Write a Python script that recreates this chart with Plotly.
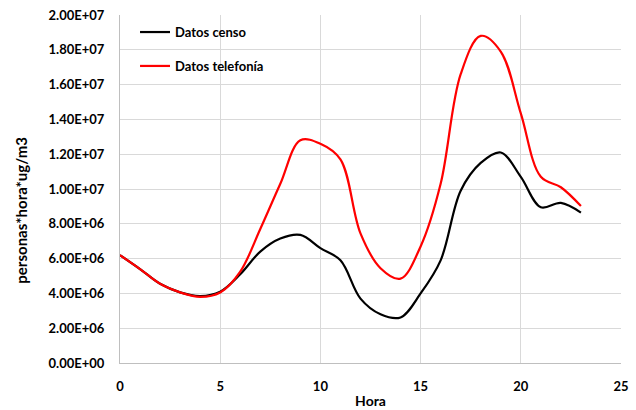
import plotly.graph_objects as go

# Hourly exposure values (personas*hora*ug/m3)
horas = list(range(24))
censo = [6.2e6, 5.4e6, 4.55e6, 4.06e6, 3.85e6, 4.1e6, 5.1e6, 6.4e6, 7.15e6, 7.36e6,
         6.6e6, 5.9e6, 3.7e6, 2.8e6, 2.62e6, 4.0e6, 5.9e6, 9.9e6, 11.5e6, 12.1e6,
         10.7e6, 8.95e6, 9.2e6, 8.64e6]
telefonia = [6.2e6, 5.4e6, 4.55e6, 4.06e6, 3.8e6, 4.05e6, 5.25e6, 7.7e6, 10.3e6, 12.8e6,
             12.6e6, 11.7e6, 7.45e6, 5.45e6, 4.85e6, 6.7e6, 10.3e6, 16.6e6, 18.8e6, 17.9e6,
             14.35e6, 10.7e6, 10.1e6, 9.02e6]

x_ticks = [0, 5, 10, 15, 20, 25]
y_ticks = [i * 2e6 for i in range(11)]
y_tick_text = ["0.00E+00", "2.00E+06", "4.00E+06", "6.00E+06", "8.00E+06", "1.00E+07",
               "1.20E+07", "1.40E+07", "1.60E+07", "1.80E+07", "2.00E+07"]

FONT = "Lato"
GRID = "#d9d9d9"
CLEAR = "rgba(0,0,0,0)"

fig = go.Figure()
fig.add_trace(go.Scatter(
    x=horas, y=censo, mode="lines", name="Datos censo", legendgroup="a",
    line=dict(color="black", width=2.2, shape="spline", smoothing=1.0),
))
fig.add_trace(go.Scatter(
    x=horas, y=telefonia, mode="lines", name="Datos telefonía", legendgroup="b",
    line=dict(color="#ff0000", width=2.2, shape="spline", smoothing=1.0),
))

fig.update_layout(
    width=636, height=410,
    margin=dict(l=120, r=15, t=15, b=47),
    paper_bgcolor="white", plot_bgcolor="white",
    font=dict(family=FONT, color="black", size=13),
    showlegend=True,
    legend=dict(
        x=0.03, y=0.994, xanchor="left", yanchor="top",
        bgcolor=CLEAR, font=dict(family=FONT, size=13, color="black", weight="bold"),
        tracegroupgap=14, itemwidth=30,
    ),
    xaxis=dict(
        range=[0, 25], tickvals=x_ticks, showgrid=True, gridcolor=GRID, gridwidth=1,
        showline=True, linecolor="#bfbfbf", linewidth=1, zeroline=False,
        ticks="outside", ticklen=11, tickcolor=CLEAR,
        tickfont=dict(family=FONT, size=13, weight="bold"),
        title=dict(text="Hora", font=dict(family=FONT, size=14, weight="bold"), standoff=3),
        automargin=False,
    ),
    yaxis=dict(
        range=[0, 2e7], tickvals=y_ticks, ticktext=y_tick_text,
        showgrid=True, gridcolor=GRID, gridwidth=1,
        showline=True, linecolor="#bfbfbf", linewidth=1, zeroline=False,
        ticks="outside", ticklen=12, tickcolor=CLEAR,
        tickfont=dict(family=FONT, size=13, weight="bold"),
        automargin=False,
    ),
    annotations=[dict(
        text="personas*hora*ug/m3", textangle=-90, showarrow=False,
        xref="paper", yref="paper", x=-0.198, y=0.44,
        xanchor="center", yanchor="middle",
        font=dict(family=FONT, size=15, weight="bold", color="black"),
    )],
)

fig.write_html("out.html")
